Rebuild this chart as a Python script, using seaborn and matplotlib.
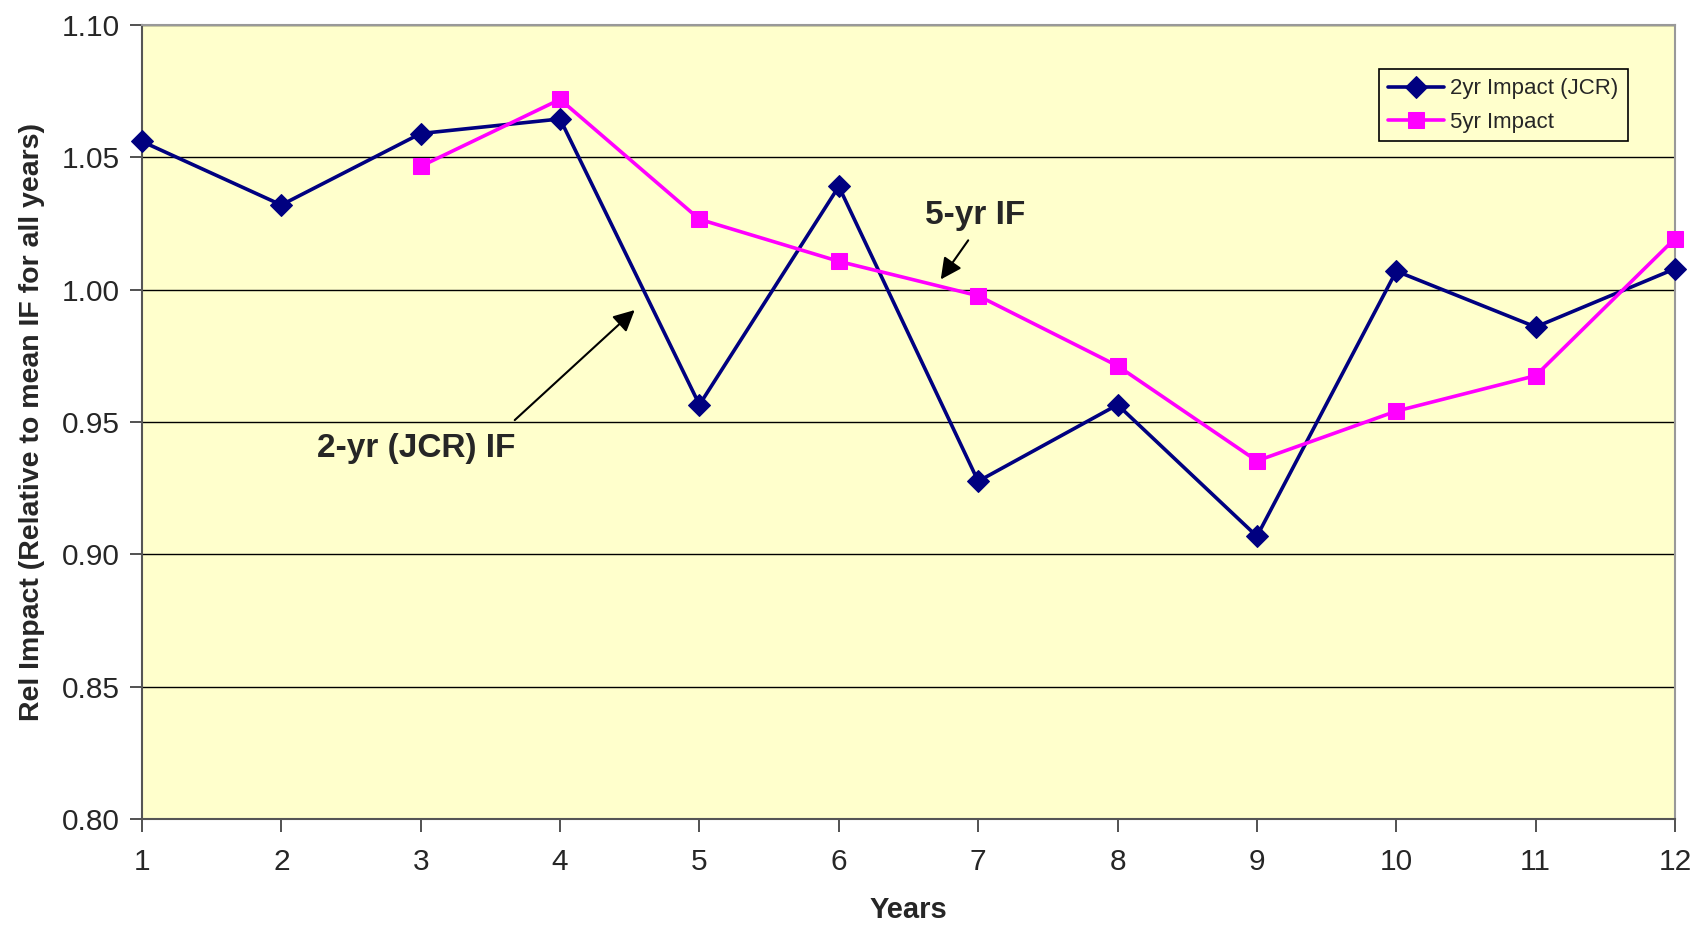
import numpy as np
import pandas as pd
import matplotlib
matplotlib.use('Agg')
import matplotlib.pyplot as plt
import seaborn as sns

years = [1, 2, 3, 4, 5, 6, 7, 8, 9, 10, 11, 12]
impact_2yr = [1.056, 1.032, 1.059, 1.0645, 0.9565, 1.039, 0.9276, 0.9565, 0.9068, 1.007, 0.9859, 1.0079]
years_5yr = [3, 4, 5, 6, 7, 8, 9, 10, 11, 12]
impact_5yr = [1.0466, 1.0719, 1.0266, 1.0107, 0.9977, 0.9712, 0.9353, 0.9541, 0.9675, 1.0193]

sns.set_style('white')
plt.rcParams['font.family'] = ['Liberation Sans', 'DejaVu Sans']

df2 = pd.DataFrame({'Years': years, 'Impact': impact_2yr})
df5 = pd.DataFrame({'Years': years_5yr, 'Impact': impact_5yr})

fig = plt.figure(figsize=(16.94, 9.26), dpi=100)
ax = fig.add_axes([0.0838, 0.1156, 0.905, 0.8574])
ax.set_facecolor('#FFFFCC')

sns.lineplot(data=df2, x='Years', y='Impact', ax=ax, color='#000080', linewidth=2.6,
             marker='D', markersize=11, markeredgecolor='#000080', label='2yr Impact (JCR)',
             clip_on=False, zorder=3)
sns.lineplot(data=df5, x='Years', y='Impact', ax=ax, color='#FF00FF', linewidth=2.6,
             marker='s', markersize=11, markeredgecolor='#FF00FF', label='5yr Impact',
             clip_on=False, zorder=3)

ax.set_xlim(1, 12)
ax.set_ylim(0.80, 1.10)
ax.set_xticks(years)
ax.set_yticks([0.80, 0.85, 0.90, 0.95, 1.00, 1.05, 1.10])
ax.set_yticklabels(['0.80', '0.85', '0.90', '0.95', '1.00', '1.05', '1.10'])
ax.yaxis.grid(True, color='black', linewidth=1)
ax.set_axisbelow(True)
ax.tick_params(axis='both', labelsize=21.5, length=9, width=1.2, color='#333333', direction='out')
ax.tick_params(axis='x', pad=12)
ax.tick_params(axis='y', pad=7)
ax.tick_params(left=True, bottom=True)

for side in ['top', 'right']:
    ax.spines[side].set_color('#999999')
    ax.spines[side].set_linewidth(1.5)
for side in ['left', 'bottom']:
    ax.spines[side].set_color('#555555')
    ax.spines[side].set_linewidth(1.5)

ax.set_xlabel('Years', fontsize=21, fontweight='bold', labelpad=14)
ax.set_ylabel('Rel Impact (Relative to mean IF for all years)', fontsize=20.5, fontweight='bold', labelpad=12)

# arrows + labels pointing at the two series
ax.annotate('', xy=(4.55, 0.993), xytext=(3.66, 0.950),
            arrowprops=dict(arrowstyle='-|>', color='black', lw=1.5, mutation_scale=32))
ax.text(2.97, 0.940, '2-yr (JCR) IF', fontsize=24, fontweight='bold', ha='center', va='center')

ax.annotate('', xy=(6.72, 1.0030), xytext=(6.94, 1.0195),
            arrowprops=dict(arrowstyle='-|>', color='black', lw=1.5, mutation_scale=32))
ax.text(6.98, 1.028, '5-yr IF', fontsize=24, fontweight='bold', ha='center', va='center')

leg = ax.legend(loc='upper right', bbox_to_anchor=(0.969, 0.944), fontsize=16, frameon=True,
                fancybox=False, edgecolor='black', framealpha=1, facecolor='#FFFFCC',
                handlelength=2.5, borderpad=0.4, labelspacing=0.55, handletextpad=0.3,
                borderaxespad=0)
leg.get_frame().set_linewidth(1.2)

fig.savefig('out.png', dpi=100)
